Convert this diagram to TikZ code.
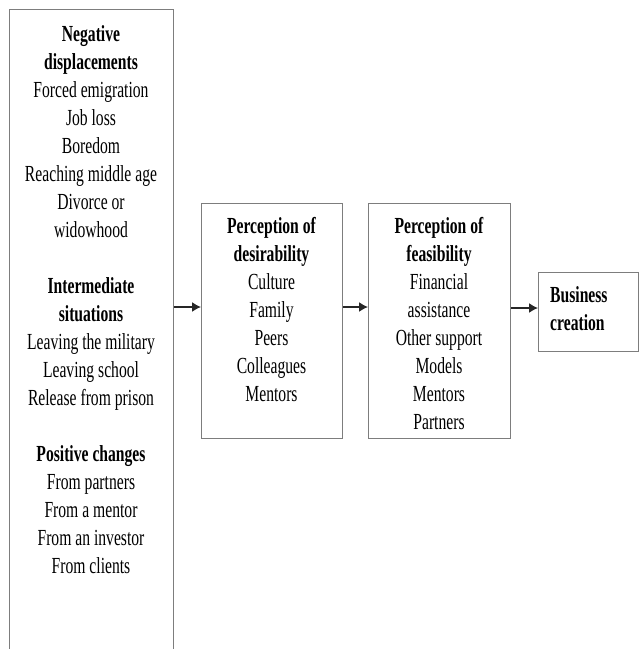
\documentclass[tikz,border=0pt]{standalone}
\usepackage{fontspec}
\setmainfont{Liberation Serif}[FakeStretch=0.68]
\usetikzlibrary{arrows.meta}
\definecolor{boxgray}{RGB}{125,125,125}
\begin{document}
\begin{tikzpicture}[x=1pt,y=-1pt,
  box/.style={draw=boxgray, line width=1.1pt, rectangle, inner sep=0pt, anchor=north west},
  txt/.style={anchor=base, inner sep=0pt, font=\fontsize{23}{28}\selectfont},
  arr/.style={-{Latex[length=9pt,width=10pt]}, line width=1.4pt, black!85}]
\useasboundingbox (0,0) rectangle (639,649);
% boxes
\node[box, minimum width=164pt, minimum height=670pt] (lb) at (9,9) {};
\node[box, minimum width=141pt, minimum height=235pt] (db) at (201,203) {};
\node[box, minimum width=142pt, minimum height=235pt] (fb) at (368,203) {};
\node[box, minimum width=100pt, minimum height=79pt] (bb) at (538,272) {};
% texts
\node[txt] (lt) at (91,41) {\begin{tabular}[t]{@{}c@{}}
\textbf{Negative}\\
\textbf{displacements}\\
Forced emigration\\
Job loss\\
Boredom\\
Reaching middle age\\
Divorce or\\
widowhood\\
\\
\textbf{Intermediate}\\
\textbf{situations}\\
Leaving the military\\
Leaving school\\
Release from prison\\
\\
\textbf{Positive changes}\\
From partners\\
From a mentor\\
From an investor\\
From clients
\end{tabular}};
\node[txt] (dt) at (271.5,233) {\begin{tabular}[t]{@{}c@{}}
\textbf{Perception of}\\
\textbf{desirability}\\
Culture\\
Family\\
Peers\\
Colleagues\\
Mentors
\end{tabular}};
\node[txt] (ft) at (439,233) {\begin{tabular}[t]{@{}c@{}}
\textbf{Perception of}\\
\textbf{feasibility}\\
Financial\\
assistance\\
Other support\\
Models\\
Mentors\\
Partners
\end{tabular}};
\node[txt, anchor=base west] (bt) at (550,302) {\begin{tabular}[t]{@{}l@{}}
\textbf{Business}\\
\textbf{creation}
\end{tabular}};
% arrows
\coordinate (ya) at (0,307);
\coordinate (yb) at (0,308);
\draw[arr] (lb.east |- ya) -- (db.west |- ya);
\draw[arr] (db.east |- ya) -- (fb.west |- ya);
\draw[arr] (fb.east |- yb) -- (bb.west |- yb);
\end{tikzpicture}
\end{document}
